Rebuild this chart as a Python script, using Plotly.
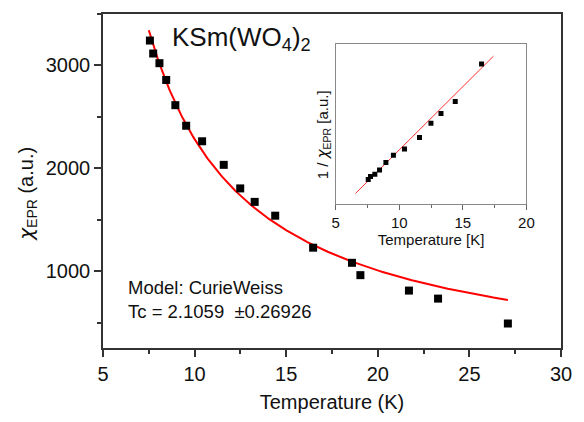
import numpy as np
import plotly.graph_objects as go

# Main data: temperature (K) and chi_EPR (a.u.)
temperature = [7.56, 7.74, 8.08, 8.45, 8.95, 9.54, 10.41, 11.59, 12.49, 13.28,
               14.40, 16.47, 18.59, 19.05, 21.70, 23.29, 27.10]
chi_epr = [3242, 3116, 3022, 2859, 2614, 2414, 2263, 2034, 1805, 1674,
           1540, 1229, 1082, 962, 812, 734, 492]

# Curie-Weiss fit parameters
curie_C = 18030.0
curie_Tc = 2.1059
fit_T_main = (7.5, 27.1)
fit_T_inset = (6.56, 17.4)
n_inset = 12

FONT = "Arial, Liberation Sans, sans-serif"
AX = "#333333"
CHI = '<span style="font-family:DejaVu Sans"><i>χ</i></span>'

Tm = np.linspace(fit_T_main[0], fit_T_main[1], 300)
fit_main = curie_C / (Tm - curie_Tc)

inset_T = temperature[:n_inset]
inset_inv = [1.0 / c for c in chi_epr[:n_inset]]
Ti = np.array(fit_T_inset)
fit_inset = (Ti - curie_Tc) / curie_C

fig = go.Figure()
fig.add_trace(go.Scatter(x=Tm, y=fit_main, mode="lines",
                         line=dict(color="#ff0000", width=2), showlegend=False))
fig.add_trace(go.Scatter(x=temperature, y=chi_epr, mode="markers",
                         marker=dict(symbol="square", color="black", size=8),
                         showlegend=False))
fig.add_trace(go.Scatter(x=Ti, y=fit_inset, mode="lines", xaxis="x2", yaxis="y2",
                         line=dict(color="#ff3030", width=1), showlegend=False))
fig.add_trace(go.Scatter(x=inset_T, y=inset_inv, mode="markers", xaxis="x2", yaxis="y2",
                         marker=dict(symbol="square", color="black", size=5),
                         showlegend=False))

fig.update_layout(
    width=584, height=422,
    margin=dict(l=103, r=13, t=12, b=65),
    paper_bgcolor="white", plot_bgcolor="white",
    font=dict(family=FONT, color="#111111"),
    xaxis=dict(range=[5, 30], tickvals=[5, 10, 15, 20, 25, 30],
               ticks="outside", ticklen=7, tickwidth=1.5, tickcolor=AX,
               showline=True, linecolor=AX, linewidth=1.5, mirror=True,
               showgrid=False, zeroline=False,
               tickfont=dict(size=20, family=FONT),
               minor=dict(tickvals=[7.5, 12.5, 17.5, 22.5, 27.5], ticks="outside",
                          ticklen=4, tickwidth=1.5, tickcolor=AX),
               title=dict(text="Temperature (K)", font=dict(size=20, family=FONT), standoff=11)),
    yaxis=dict(range=[254, 3500], tickvals=[1000, 2000, 3000],
               ticks="outside", ticklen=7, tickwidth=1.5, tickcolor=AX,
               showline=True, linecolor=AX, linewidth=1.5, mirror=True,
               showgrid=False, zeroline=False,
               tickfont=dict(size=20, family=FONT),
               minor=dict(tickvals=[500, 1500, 2500, 3500], ticks="outside",
                          ticklen=4, tickwidth=1.5, tickcolor=AX)),
    xaxis2=dict(domain=[0.508, 0.9246], anchor="y2", range=[5, 20],
                tickvals=[5, 10, 15, 20], ticks="outside", ticklen=5, tickwidth=1,
                tickcolor="#666666", showline=True, linecolor="#888888", linewidth=1,
                mirror=True, showgrid=False, zeroline=False,
                tickfont=dict(size=15, family=FONT),
                minor=dict(tickvals=[7.5, 12.5, 17.5], ticks="outside", ticklen=3,
                           tickwidth=1, tickcolor="#666666"),
                title=dict(text="Temperature [K]", font=dict(size=15, family=FONT), standoff=4)),
    yaxis2=dict(domain=[0.432, 0.909], anchor="x2", range=[2.02e-4, 9.0e-4],
                showticklabels=False, ticks="", showline=True, linecolor="#888888",
                linewidth=1, mirror=True, showgrid=False, zeroline=False),
)

fig.add_annotation(text=CHI + "<sub>EPR</sub> (a.u.)", xref="paper", yref="paper",
                   x=(25 - 103) / 468, y=(357 - 198) / 345, textangle=-90,
                   showarrow=False, font=dict(size=20, family=FONT),
                   xanchor="center", yanchor="middle")
fig.add_annotation(text="1 / " + CHI + "<sub>EPR</sub> [a.u.]", xref="paper", yref="paper",
                   x=(328 - 103) / 468, y=(357 - 137) / 345, textangle=-90,
                   showarrow=False, font=dict(size=15, family=FONT),
                   xanchor="center", yanchor="middle")
fig.add_annotation(text="KSm(WO<sub>4</sub>)<sub>2</sub>", xref="paper", yref="paper",
                   x=(171 - 103) / 468, y=(357 - 37) / 345, showarrow=False,
                   font=dict(size=26, family=FONT), xanchor="left", yanchor="middle")
fig.add_annotation(text="Model: CurieWeiss", xref="paper", yref="paper",
                   x=(127 - 103) / 468, y=(357 - 295) / 345, showarrow=False,
                   font=dict(size=18.5, family=FONT), xanchor="left", yanchor="middle")
fig.add_annotation(text="Tc = 2.1059\u00a0 ±0.26926", xref="paper", yref="paper",
                   x=(127 - 103) / 468, y=(357 - 319) / 345, showarrow=False,
                   font=dict(size=18.5, family=FONT), xanchor="left", yanchor="middle")

# remove the page's default body margin so the figure fills the window exactly
fig.write_html("out.html", config={"displayModeBar": False},
               post_script="document.body.style.margin='0';document.body.style.overflow='hidden';")
